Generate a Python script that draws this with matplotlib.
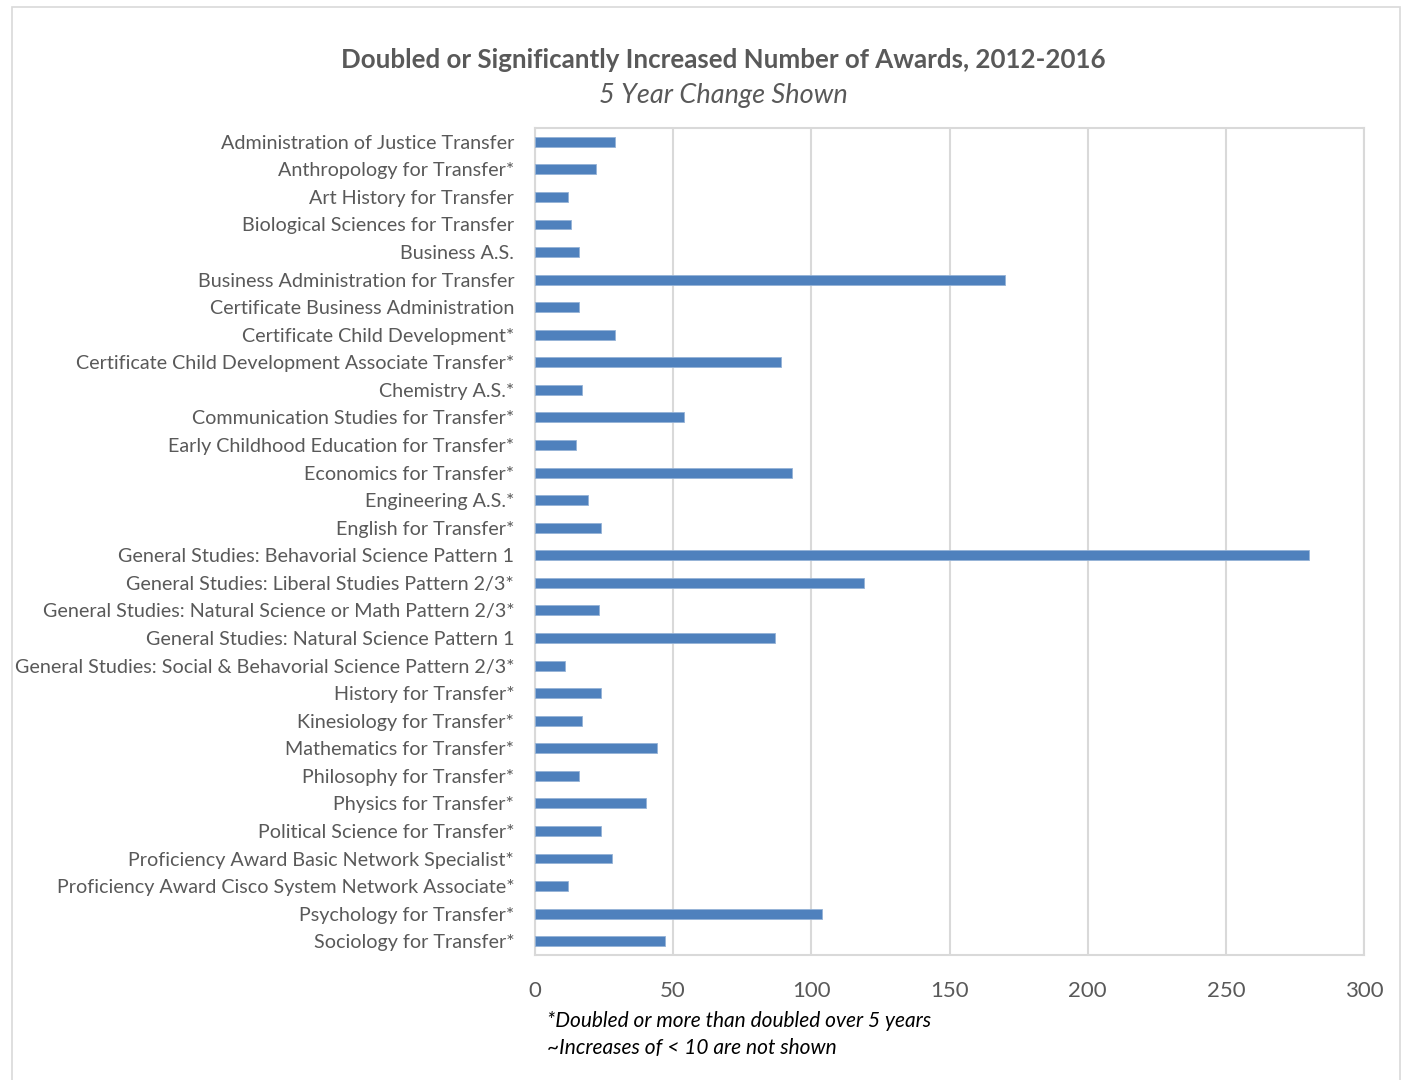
import numpy as np
import matplotlib
matplotlib.use("Agg")
import matplotlib.pyplot as plt
from matplotlib.patches import Rectangle

plt.rcParams['font.family'] = ['Lato', 'DejaVu Sans']

programs = [
    "Administration of Justice Transfer",
    "Anthropology for Transfer*",
    "Art History for Transfer",
    "Biological Sciences for Transfer",
    "Business A.S.",
    "Business Administration for Transfer",
    "Certificate Business Administration",
    "Certificate Child Development*",
    "Certificate Child Development Associate Transfer*",
    "Chemistry A.S.*",
    "Communication Studies for Transfer*",
    "Early Childhood Education for Transfer*",
    "Economics for Transfer*",
    "Engineering A.S.*",
    "English for Transfer*",
    "General Studies: Behavorial Science Pattern 1",
    "General Studies: Liberal Studies Pattern 2/3*",
    "General Studies: Natural Science or Math Pattern 2/3*",
    "General Studies: Natural Science Pattern 1",
    "General Studies: Social & Behavorial Science Pattern 2/3*",
    "History for Transfer*",
    "Kinesiology for Transfer*",
    "Mathematics for Transfer*",
    "Philosophy for Transfer*",
    "Physics for Transfer*",
    "Political Science for Transfer*",
    "Proficiency Award Basic Network Specialist*",
    "Proficiency Award Cisco System Network Associate*",
    "Psychology for Transfer*",
    "Sociology for Transfer*",
]
change = [29, 22, 12, 13, 16, 170, 16, 29, 89, 17, 54, 15, 93, 19, 24,
          280, 119, 23, 87, 11, 24, 17, 44, 16, 40, 24, 28, 12, 104, 47]
xticks = [0, 50, 100, 150, 200, 250, 300]

title = "Doubled or Significantly Increased Number of Awards, 2012-2016"
subtitle = "5 Year Change Shown"
notes = ["*Doubled or more than doubled over 5 years",
         "~Increases of < 10 are not shown"]

fig = plt.figure(figsize=(14.05, 10.8), dpi=100)

# outer chart border
fig.patches.append(Rectangle((12/1405, -0.01), (1400-12)/1405, 1 - 7/1080 + 0.01,
                             transform=fig.transFigure, fill=False,
                             edgecolor='#D9D9D9', linewidth=1.2))

ax = fig.add_axes([535/1405, 1 - 955/1080, (1364-535)/1405, (955-128)/1080])
y = np.arange(len(programs))
ax.barh(y, change, height=0.36, color='#4F81BD', edgecolor='#95B3D7', linewidth=0.6, zorder=3)
ax.set_ylim(len(programs) - 0.5, -0.5)
ax.set_xlim(0, 300)
ax.set_xticks(xticks)
ax.set_xticklabels([str(t) for t in xticks], fontsize=16, color='#595959')
ax.set_yticks(y)
ax.set_yticklabels(programs, fontsize=14.2, color='#595959')
ax.tick_params(axis='both', length=0)
ax.tick_params(axis='x', pad=19)
ax.tick_params(axis='y', pad=15)
ax.grid(axis='x', color='#D9D9D9', linewidth=1.5, zorder=0)
for s in ax.spines.values():
    s.set_color('#D9D9D9')
    s.set_linewidth(1.5)

fig.text(723/1405, 1 - 60/1080, title, ha='center', va='center',
         fontsize=18.6, fontweight='bold', color='#595959')
fig.text(723/1405, 1 - 96/1080, subtitle, ha='center', va='center',
         fontsize=19.5, style='italic', color='#595959')
fig.text(547/1405, 1 - 1021/1080, notes[0], ha='left', va='center',
         fontsize=15, style='italic', color='#000000')
fig.text(547/1405, 1 - 1048/1080, notes[1], ha='left', va='center',
         fontsize=15, style='italic', color='#000000')

fig.savefig("out.png", dpi=100, facecolor='white')
